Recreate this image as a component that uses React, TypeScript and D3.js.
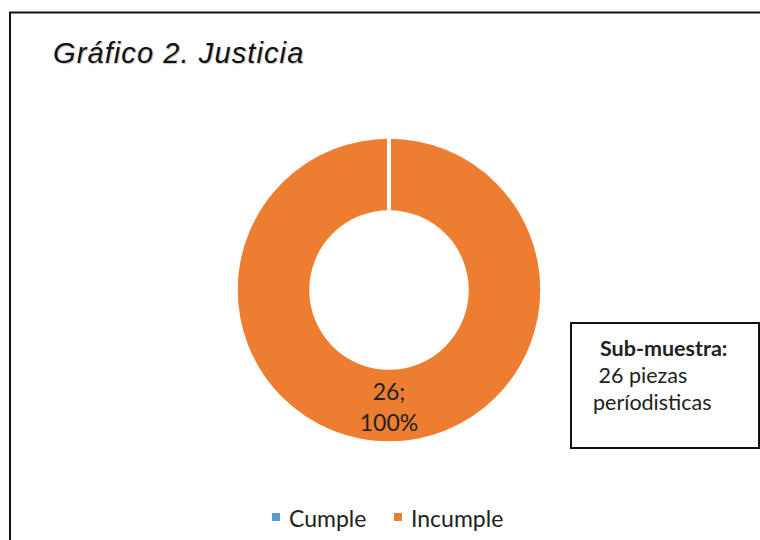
import React, { useEffect, useRef } from "react";
import * as d3 from "d3";

const categories = ["Cumple", "Incumple"];
const values = [0, 26];
const colors = ["#5B9BD5", "#ED7D31"];
const pctLabels = ["0%", "100%"];
const title = "Gráfico 2. Justicia";
const noteLines = ["Sub-muestra:", " 26 piezas", "períodisticas"];

const W = 760;
const H = 540;

export default function App() {
  const ref = useRef<SVGSVGElement>(null);

  useEffect(() => {
    const svg = d3.select(ref.current);
    svg.selectAll("*").remove();

    // outer frame (cut off at right and bottom like the screenshot)
    svg.append("rect")
      .attr("x", 10).attr("y", 12.5)
      .attr("width", 820).attr("height", 620)
      .attr("fill", "#fff")
      .attr("stroke", "#111")
      .attr("stroke-width", 2);

    svg.append("text")
      .text(title)
      .attr("x", 53).attr("y", 63)
      .attr("font-family", "Liberation Sans, Arial, sans-serif")
      .attr("font-style", "italic")
      .attr("font-size", 29)
      .attr("letter-spacing", 1.1)
      .attr("fill", "#111")
      .style("text-shadow", "1px 1px 1px rgba(0,0,0,0.25)");

    const cx = 389, cy = 290;
    const outerR = 152, innerR = 79;

    const pie = d3.pie<number>().sort(null).value(d => d);
    const arcs = pie(values);
    const arc = d3.arc<d3.PieArcDatum<number>>().innerRadius(innerR).outerRadius(outerR);

    const g = svg.append("g").attr("transform", `translate(${cx},${cy})`);
    g.selectAll("path")
      .data(arcs)
      .join("path")
      .attr("d", arc)
      .attr("fill", (d, i) => colors[i])
      .attr("stroke", "#fff")
      .attr("stroke-width", 1.5);

    // white separators at slice boundaries (also shows the empty slice)
    g.selectAll("line.sep")
      .data(arcs)
      .join("line")
      .attr("class", "sep")
      .attr("x1", d => (innerR - 2) * Math.sin(d.startAngle))
      .attr("y1", d => -(innerR - 2) * Math.cos(d.startAngle))
      .attr("x2", d => (outerR + 2) * Math.sin(d.startAngle))
      .attr("y2", d => -(outerR + 2) * Math.cos(d.startAngle))
      .attr("stroke", "#fff")
      .attr("stroke-width", 4);

    // data label for the non-zero slice
    arcs.forEach((a, i) => {
      if (values[i] === 0) return;
      const t = g.append("text")
        .attr("text-anchor", "middle")
        .attr("font-family", "Lato, Carlito, sans-serif")
        .attr("font-size", 23)
        .attr("fill", "#222");
      t.append("tspan").attr("x", 0).attr("y", 110).text(`${values[i]};`);
      t.append("tspan").attr("x", 0).attr("y", 141).text(pctLabels[i]);
    });

    // legend
    const legend = svg.append("g").attr("font-family", "Lato, Carlito, sans-serif").attr("font-size", 23);
    const legX = [272, 394];
    categories.forEach((c, i) => {
      legend.append("rect")
        .attr("x", legX[i]).attr("y", 513)
        .attr("width", 8).attr("height", 8)
        .attr("fill", colors[i]);
      legend.append("text")
        .attr("x", legX[i] + 17).attr("y", 527)
        .attr("fill", "#222")
        .text(c);
    });

    // note box
    svg.append("rect")
      .attr("x", 571).attr("y", 323)
      .attr("width", 188).attr("height", 125)
      .attr("fill", "#fff")
      .attr("stroke", "#111")
      .attr("stroke-width", 2);

    const note = svg.append("g").attr("font-family", "Lato, Carlito, sans-serif").attr("font-size", 21.5).attr("fill", "#222");
    note.append("text").attr("x", 600).attr("y", 356).attr("font-weight", "bold").text(noteLines[0]);
    note.append("text").attr("x", 593).attr("y", 383).style("white-space", "pre").text(noteLines[1]);
    note.append("text").attr("x", 593).attr("y", 410).text(noteLines[2]);
  }, []);

  return (
    <div style={{ position: "fixed", left: 0, top: 0 }}>
      <svg ref={ref} width={W} height={H} style={{ display: "block", background: "#fff" }} />
    </div>
  );
}
